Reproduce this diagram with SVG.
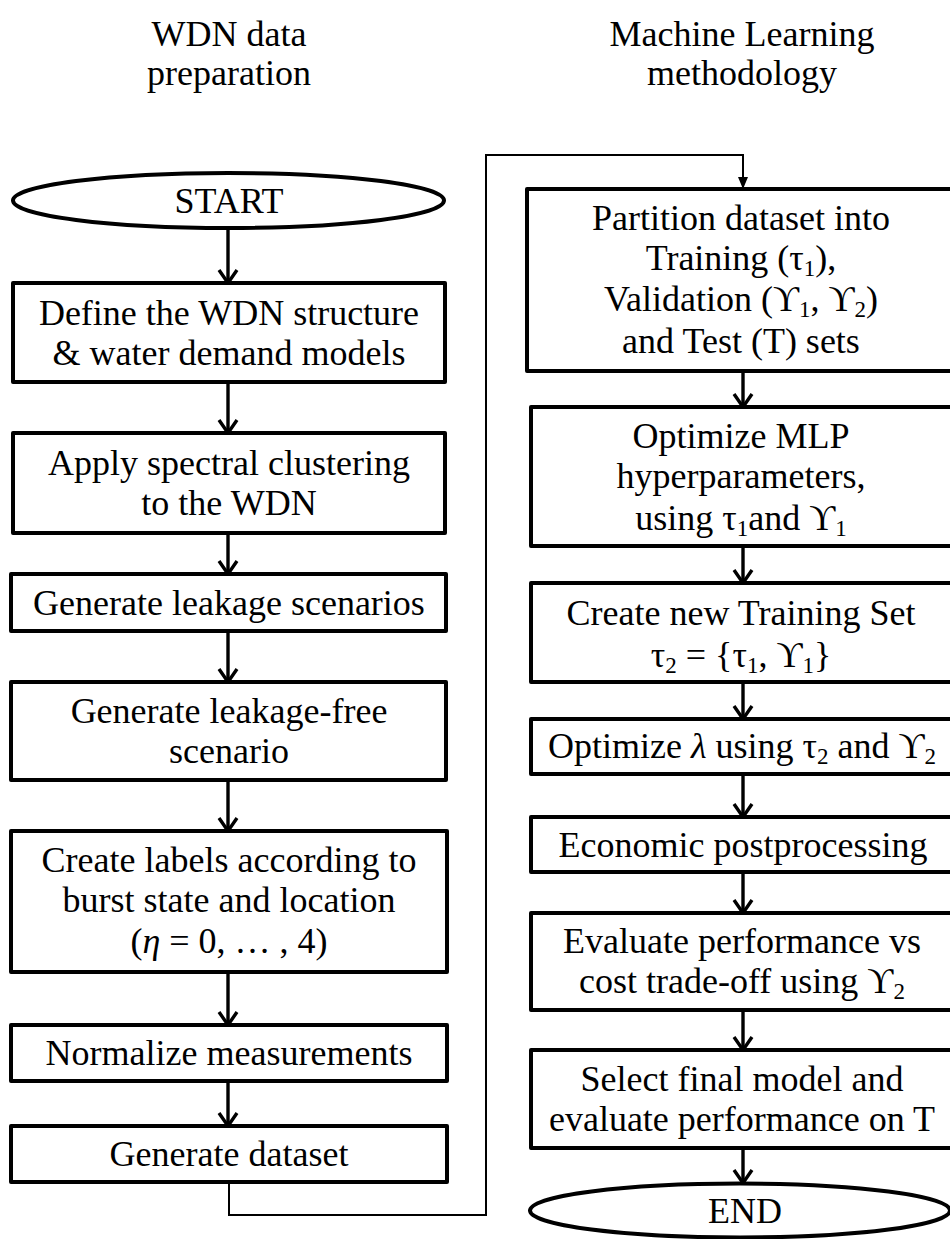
<svg xmlns="http://www.w3.org/2000/svg" width="950" height="1239" viewBox="0 0 950 1239">
  <style>
    text { font-family: "Liberation Serif", "DejaVu Serif", serif; font-size: 36px; fill: #000; text-anchor: middle; }
    .box { fill: #fff; stroke: #000; stroke-width: 4; stroke-linejoin: round; }
    .flow { fill: none; stroke: #000; stroke-width: 3.4; }
    .loop { fill: none; stroke: #000; stroke-width: 2; }
    .sub { font-size: 23px; }
    .it { font-style: italic; }
  </style>
  <defs>
    <marker id="chev" viewBox="-16 -12 20 24" refX="0" refY="0" markerWidth="20" markerHeight="24" markerUnits="userSpaceOnUse" orient="auto">
      <path d="M-13,-9 L0,0 L-13,9" fill="none" stroke="#000" stroke-width="3.4" stroke-linejoin="miter"/>
    </marker>
    <marker id="tri" viewBox="-14 -7 16 14" refX="0" refY="0" markerWidth="16" markerHeight="14" markerUnits="userSpaceOnUse" orient="auto">
      <path d="M-12,-5 L0,0 L-12,5 Z" fill="#000"/>
    </marker>
  </defs>

  <!-- column headings -->
  <g id="heading-left">
    <text x="229" y="46">WDN data</text>
    <text x="229" y="85">preparation</text>
  </g>
  <g id="heading-right">
    <text x="742" y="46">Machine Learning</text>
    <text x="742" y="85">methodology</text>
  </g>

  <!-- connectors -->
  <g id="connectors">
    <path class="flow" d="M228,228 V283" marker-end="url(#chev)"/>
    <path class="flow" d="M228,382 V433" marker-end="url(#chev)"/>
    <path class="flow" d="M228,533 V574" marker-end="url(#chev)"/>
    <path class="flow" d="M228,631 V682" marker-end="url(#chev)"/>
    <path class="flow" d="M228,780 V831" marker-end="url(#chev)"/>
    <path class="flow" d="M228,972 V1025" marker-end="url(#chev)"/>
    <path class="flow" d="M228,1081 V1126" marker-end="url(#chev)"/>
    <path class="loop" d="M229,1182 V1215 H486 V155 H743 V189" marker-end="url(#tri)"/>
    <path class="flow" d="M743,371 V407" marker-end="url(#chev)"/>
    <path class="flow" d="M743,546 V583" marker-end="url(#chev)"/>
    <path class="flow" d="M743,682 V719" marker-end="url(#chev)"/>
    <path class="flow" d="M743,774 V817" marker-end="url(#chev)"/>
    <path class="flow" d="M743,872 V913" marker-end="url(#chev)"/>
    <path class="flow" d="M743,1010 V1050" marker-end="url(#chev)"/>
    <path class="flow" d="M743,1148 V1183" marker-end="url(#chev)"/>
  </g>

  <!-- left column -->
  <g id="start">
    <ellipse class="box" cx="228.5" cy="200.5" rx="215.5" ry="27.5"/>
    <text x="229" y="213">START</text>
  </g>
  <g id="define-wdn">
    <rect class="box" x="13" y="283" width="432" height="99"/>
    <text x="229" y="325">Define the WDN structure</text>
    <text x="229" y="365">&amp; water demand models</text>
  </g>
  <g id="spectral-clustering">
    <rect class="box" x="13" y="433" width="432" height="100"/>
    <text x="229" y="475">Apply spectral clustering</text>
    <text x="229" y="515">to the WDN</text>
  </g>
  <g id="leak-scenarios">
    <rect class="box" x="11" y="574" width="435" height="57"/>
    <text x="229" y="615">Generate leakage scenarios</text>
  </g>
  <g id="leak-free">
    <rect class="box" x="11" y="682" width="435" height="98"/>
    <text x="229" y="723">Generate leakage-free</text>
    <text x="229" y="763">scenario</text>
  </g>
  <g id="labels">
    <rect class="box" x="11" y="831" width="436" height="141"/>
    <text x="229" y="872">Create labels according to</text>
    <text x="229" y="912">burst state and location</text>
    <text x="229" y="953">(<tspan class="it">η</tspan> = 0, … , 4)</text>
  </g>
  <g id="normalize">
    <rect class="box" x="11" y="1025" width="436" height="56"/>
    <text x="229" y="1065">Normalize measurements</text>
  </g>
  <g id="dataset">
    <rect class="box" x="11" y="1126" width="436" height="56"/>
    <text x="229" y="1166">Generate dataset</text>
  </g>

  <!-- right column -->
  <g id="partition">
    <rect class="box" x="527" y="189" width="430" height="182"/>
    <text x="741" y="230">Partition dataset into</text>
    <text x="741" y="270">Training (τ<tspan class="sub" dy="6">1</tspan><tspan dy="-6">),</tspan></text>
    <text x="741" y="311">Validation (ϒ<tspan class="sub" dy="6">1</tspan><tspan dy="-6">, ϒ</tspan><tspan class="sub" dy="6">2</tspan><tspan dy="-6">)</tspan></text>
    <text x="741" y="353">and Test (T) sets</text>
  </g>
  <g id="optimize-mlp">
    <rect class="box" x="531" y="407" width="426" height="139"/>
    <text x="741" y="448">Optimize MLP</text>
    <text x="741" y="488">hyperparameters,</text>
    <text x="741" y="530">using τ<tspan class="sub" dy="6">1</tspan><tspan dy="-6">and ϒ</tspan><tspan class="sub" dy="6">1</tspan></text>
  </g>
  <g id="new-training-set">
    <rect class="box" x="531" y="583" width="426" height="99"/>
    <text x="741" y="625">Create new Training Set</text>
    <text x="741" y="667">τ<tspan class="sub" dy="6">2</tspan><tspan dy="-6"> = {τ</tspan><tspan class="sub" dy="6">1</tspan><tspan dy="-6">, ϒ</tspan><tspan class="sub" dy="6">1</tspan><tspan dy="-6">}</tspan></text>
  </g>
  <g id="optimize-lambda">
    <rect class="box" x="531" y="719" width="426" height="55"/>
    <text x="742" y="758">Optimize <tspan class="it">λ</tspan> using τ<tspan class="sub" dy="6">2</tspan><tspan dy="-6"> and ϒ</tspan><tspan class="sub" dy="6">2</tspan></text>
  </g>
  <g id="economic">
    <rect class="box" x="531" y="817" width="426" height="55"/>
    <text x="743" y="857">Economic postprocessing</text>
  </g>
  <g id="evaluate-tradeoff">
    <rect class="box" x="531" y="913" width="426" height="97"/>
    <text x="742" y="953">Evaluate performance vs</text>
    <text x="742" y="993">cost trade-off using ϒ<tspan class="sub" dy="6">2</tspan></text>
  </g>
  <g id="select-model">
    <rect class="box" x="531" y="1050" width="426" height="98"/>
    <text x="742" y="1091">Select final model and</text>
    <text x="742" y="1131">evaluate performance on T</text>
  </g>
  <g id="end">
    <ellipse class="box" cx="740" cy="1210.5" rx="210" ry="27"/>
    <text x="745" y="1223">END</text>
  </g>
</svg>
